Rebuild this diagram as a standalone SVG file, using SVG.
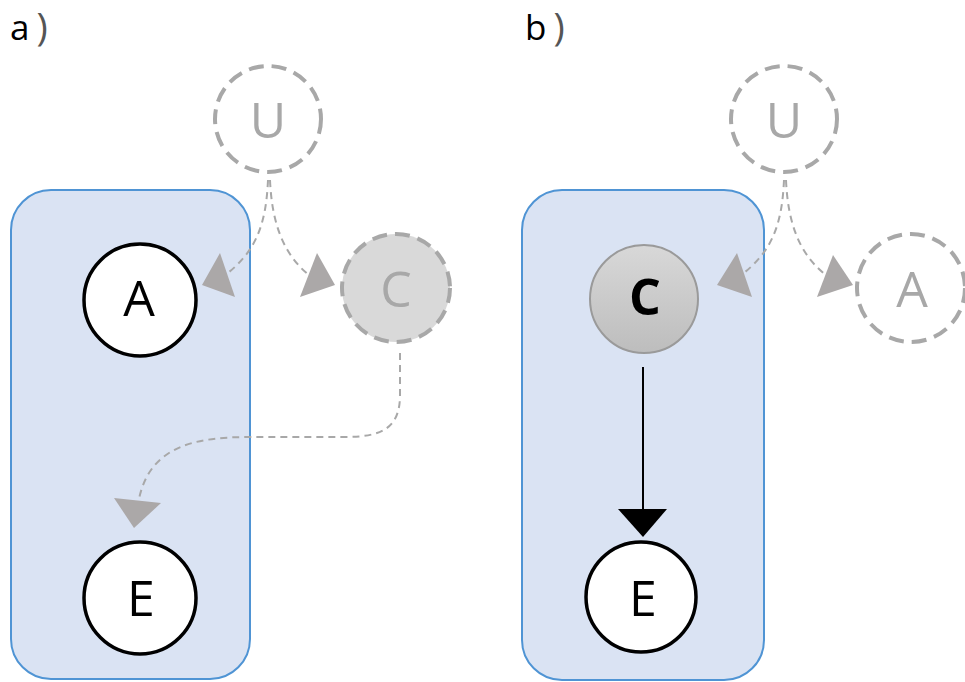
<svg xmlns="http://www.w3.org/2000/svg" width="965" height="682" viewBox="0 0 965 682">
  <style>
    .panel { fill: #dae3f3; stroke: #4f94d4; stroke-width: 2; }
    .solid { fill: #ffffff; stroke: #000000; stroke-width: 3.5; }
    .ghost { fill: none; stroke: #a8a8a8; stroke-width: 4; stroke-dasharray: 15 8; }
    .ghost-filled { fill: #d9d9d9; stroke: #a8a8a8; stroke-width: 4; stroke-dasharray: 15 8; }
    .observed { fill: url(#grayFill); stroke: #9a9a9a; stroke-width: 2; }
    .lbl { font-family: "Open Sans", "Noto Sans", "Liberation Sans", sans-serif; font-size: 50px; text-anchor: middle; }
    .lbl-dark { fill: #000000; }
    .lbl-ghost { fill: #a8a8a8; }
    .title { font-family: "Open Sans", "Noto Sans", "Liberation Sans", sans-serif; font-size: 35px; fill: #000000; }
    .title tspan.paren { font-size: 38px; fill: #555555; }
    .dash-edge { fill: none; stroke: #a8a8a8; stroke-width: 2; stroke-dasharray: 7 5; }
    .dash-head { fill: #aba8a8; stroke: none; }
    .edge { fill: none; stroke: #000000; stroke-width: 2; }
    .head { fill: #000000; stroke: none; }
  </style>
  <defs>
    <linearGradient id="grayFill" x1="0" y1="0" x2="0" y2="1">
      <stop offset="0" stop-color="#d8d8d8"/>
      <stop offset="1" stop-color="#bdbdbd"/>
    </linearGradient>
  </defs>

  <!-- panel titles -->
  <text class="title" x="10" y="40">a<tspan class="paren" dx="7" dy="1">)</tspan></text>
  <text class="title" x="525" y="40">b<tspan class="paren" dx="7" dy="1">)</tspan></text>

  <!-- plates -->
  <rect id="plate-a" class="panel" x="11" y="190" width="239" height="489" rx="40" ry="40"/>
  <rect id="plate-b" class="panel" x="522" y="190" width="242" height="490" rx="40" ry="40"/>

  <!-- connectors -->
  <g id="connectors">
    <!-- panel a -->
    <path class="dash-edge" d="M268,180 C266,225 256,252 224,276"/>
    <polygon class="dash-head" points="202,285 220,253 235,297"/>
    <path class="dash-edge" d="M270,180 C272,225 284,255 310,276"/>
    <polygon class="dash-head" points="300,297 317,253 335,285"/>
    <path class="dash-edge" d="M400,353 L400,395 C400,428 382,437 345,437 L250,437 C195,437 150,446 139,499"/>
    <polygon class="dash-head" points="114,498 161,503 134,528"/>
    <!-- panel b -->
    <path class="dash-edge" d="M784,180 C782,225 772,252 740,276"/>
    <polygon class="dash-head" points="717,285 737,253 752,297"/>
    <path class="dash-edge" d="M786,180 C788,225 800,255 827,276"/>
    <polygon class="dash-head" points="817,297 833,255 853,285"/>
    <line class="edge" x1="643" y1="367" x2="643" y2="512"/>
    <polygon class="head" points="618,509 667,509 643,537"/>
  </g>

  <!-- panel a nodes -->
  <g id="a-U">
    <circle class="ghost" cx="268" cy="119" r="53"/>
    <text class="lbl lbl-ghost" x="268" y="138">U</text>
  </g>
  <g id="a-A">
    <circle class="solid" cx="140" cy="300" r="56"/>
    <text class="lbl lbl-dark" x="139" y="316">A</text>
  </g>
  <g id="a-C">
    <circle class="ghost-filled" cx="396" cy="288" r="54"/>
    <text class="lbl lbl-ghost" x="396" y="307">C</text>
  </g>
  <g id="a-E">
    <circle class="solid" cx="140" cy="598" r="56"/>
    <text class="lbl lbl-dark" x="141" y="616">E</text>
  </g>

  <!-- panel b nodes -->
  <g id="b-U">
    <circle class="ghost" cx="784" cy="119" r="53"/>
    <text class="lbl lbl-ghost" x="784" y="138">U</text>
  </g>
  <g id="b-C">
    <circle class="observed" cx="644" cy="299" r="54"/>
    <text class="lbl lbl-dark" x="645" y="315" font-weight="bold">C</text>
  </g>
  <g id="b-A">
    <circle class="ghost" cx="911" cy="288" r="54"/>
    <text class="lbl lbl-ghost" x="912" y="307">A</text>
  </g>
  <g id="b-E">
    <circle class="solid" cx="641" cy="597" r="55"/>
    <text class="lbl lbl-dark" x="643" y="616">E</text>
  </g>
</svg>
